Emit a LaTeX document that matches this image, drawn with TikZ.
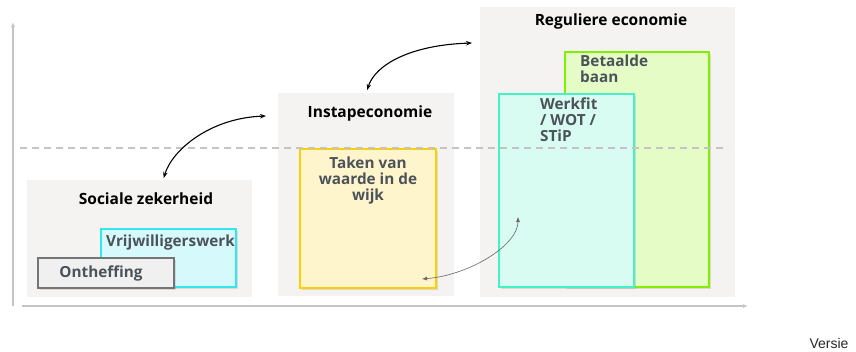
\documentclass[tikz,border=0pt]{standalone}
\usepackage{fontspec}
\setmainfont{Open Sans}
\newfontfamily\versiefont{Liberation Sans}
\usepackage{tikz}
\usetikzlibrary{arrows.meta, positioning, shadows}
\usepackage{xcolor}
\definecolor{panelgrey}{HTML}{F4F3F2}
\definecolor{labelgrey}{HTML}{4B5259}
\definecolor{axisgrey}{HTML}{C4C4C4}
\definecolor{cyanline}{HTML}{33E6F2}
\definecolor{cyanfill}{HTML}{D6F9FC}
\definecolor{greyline}{HTML}{757575}
\definecolor{greyfill}{HTML}{F0F0F0}
\definecolor{goldline}{HTML}{FFD000}
\definecolor{goldfill}{HTML}{FFF5CC}
\definecolor{aqualine}{HTML}{44F2C6}
\definecolor{aquafill}{HTML}{D9FCF2}
\definecolor{limeline}{HTML}{80F000}
\definecolor{limefill}{HTML}{E5FCC7}

\begin{document}
\begin{tikzpicture}[x=1pt, y=-1pt,
  panel/.style={rectangle, fill=panelgrey, inner sep=0pt, anchor=north west},
  paneltitle/.style={font=\bfseries\fontsize{15.5}{18}\selectfont, text=black, inner sep=0pt},
  card/.style={rectangle, line width=2pt, inner sep=0pt, anchor=north west,
               drop shadow={shadow xshift=2pt, shadow yshift=-2pt, opacity=0.22}},
  cardtext/.style={font=\bfseries\fontsize{15.3}{15.8}\selectfont, text=labelgrey, inner sep=0pt},
  link/.style={{Stealth[length=6pt]}-{Stealth[length=6pt]}, line width=1.1pt, black}]
\useasboundingbox (0,0) rectangle (856,351);

\node[panel, minimum width=225pt, minimum height=117pt] (sociaal) at (27,180) {};
\node[panel, minimum width=176pt, minimum height=203pt] (instap) at (278,93) {};
\node[panel, minimum width=255pt, minimum height=290pt] (regulier) at (480,7) {};

\node[paneltitle] (sociaaltitel) at (146,199) {Sociale zekerheid};
\node[paneltitle] (instaptitel) at (370,113) {Instapeconomie};
\node[paneltitle] (reguliertitel) at (611,21) {Reguliere economie};

\node[card, draw=cyanline, fill=cyanfill, minimum width=135pt, minimum height=58pt] (vrijwillig) at (100,228) {};
\node[card, draw=greyline, fill=greyfill, minimum width=136pt, minimum height=30pt] (ontheffing) at (37,257) {};
\node[card, draw=goldline, fill=goldfill, minimum width=136pt, minimum height=139pt] (taken) at (299,148) {};
\node[card, draw=limeline, fill=limefill, minimum width=144pt, minimum height=235pt] (betaald) at (564,51) {};
\node[card, draw=aqualine, fill=aquafill, minimum width=135pt, minimum height=193pt] (werkfit) at (498,93) {};

\node[cardtext, below right=7pt and 6pt of vrijwillig.north west] (vrijwilligtekst) {Vrijwilligerswerk};
\node[cardtext, xshift=-5pt] (onthefftekst) at (ontheffing.center) {Ontheffing};
\node[cardtext, align=center, below=9pt of taken.north] (takentekst) {Taken van\\waarde in de\\wijk};
\node[cardtext, align=left, below right=5pt and 42pt of werkfit.north west] (werkfittekst) {Werkfit\\/ WOT /\\STiP};
\node[cardtext, align=left, below right=4pt and 16pt of betaald.north west] (betaaldtekst) {Betaalde\\baan};

\draw[axisgrey, line width=1.3pt, dash pattern=on 7pt off 5pt] (20,148) -- (728,148);

\draw[link] ([xshift=24pt, yshift=2pt]sociaal.north) .. controls (172,150) and (210,118) .. ([xshift=-12pt, yshift=-23pt]instap.north west);
\draw[link] ([xshift=1pt, yshift=3pt]instap.north) .. controls (375,65) and (410,45) .. ([xshift=-8pt, yshift=-36pt]regulier.north west);
\draw[{Latex[length=5pt, width=4pt]}-{Latex[length=5pt, width=4pt]}, line width=0.6pt, black!60]
  ([xshift=-15pt, yshift=10pt]taken.south east) .. controls (470,275) and (518,245) .. ([xshift=20pt, yshift=71pt]werkfit.south west);

\coordinate (oorsprong) at (13,306);
\coordinate (ytop) at (13,22);
\coordinate (xstart) at (22,306);
\coordinate (xeind) at (748,306);
\draw[axisgrey, line width=1.3pt, -{Latex[length=5pt, width=4pt]}] (oorsprong) -- (ytop);
\draw[axisgrey, line width=1.3pt, -{Latex[length=5pt, width=4pt]}] (xstart) -- (xeind);

\node[font=\versiefont\fontsize{14}{16}\selectfont, text=black!85, inner sep=0pt] (versie) at (829,343) {Versie};
\end{tikzpicture}
\end{document}
